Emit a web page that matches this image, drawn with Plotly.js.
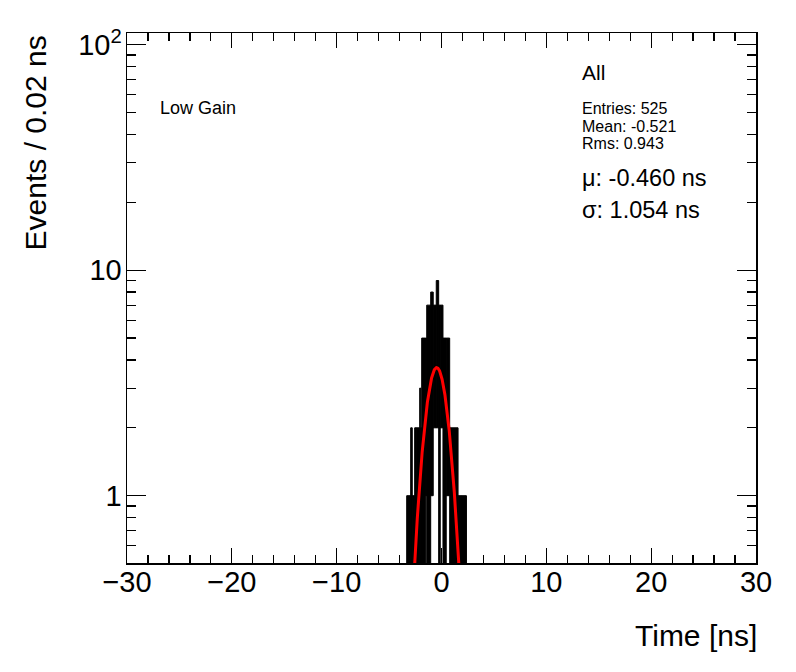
<!DOCTYPE html>
<html>
<head>
<meta charset="utf-8">
<script src="https://cdn.plot.ly/plotly-3.0.1.min.js"></script>
<style>
  html, body { margin: 0; padding: 0; background: #fff; }
  #chart { width: 796px; height: 672px; }
</style>
</head>
<body>
<div id="chart"></div>
<script>
// Histogram envelope (columns of the dense 0.02 ns histogram)
const binLow  = [-3.32, -2.94, -2.79, -2.56, -2.41, -2.08, -1.98, -1.89, -1.51, -1.41, -1.03, -0.79, -0.50, -0.27, -0.12, 0.14, 0.45, 0.78, 1.58, 1.83];
const binHigh = [-2.94, -2.79, -2.56, -2.41, -2.08, -1.98, -1.89, -1.51, -1.41, -1.03, -0.79, -0.50, -0.27, -0.12, 0.14, 0.45, 0.78, 1.58, 1.83, 2.38];
const maxCounts = [1, 2, 1, 2, 2, 3, 2, 5, 5, 7, 8, 7, 9, 7, 7, 5, 5, 2, 1, 1];
const minCounts = [0, 0, 0, 0, 0, 0, 0, 0, 1, 0, 1, 2, 2, 0, 2, 0, 1, 0, 0, 0];

// Gaussian fit parameters
const fitMu = -0.460;
const fitSigma = 1.054;
const fitAmp = 3.7;
const fitRange = [-2.8, 1.75];

const xTickVals = [-30, -20, -10, 0, 10, 20, 30];
const xTickText = ['\u221230', '\u221220', '\u221210', '0', '10', '20', '30'];
const yTickVals = [1, 10, 100];
const yTickText = ['1', '10', '10<sup>2</sup>'];
const yMinorVals = [0.6, 0.7, 0.8, 0.9, 2, 3, 4, 5, 6, 7, 8, 9, 20, 30, 40, 50, 60, 70, 80, 90];

const statLines = ['Entries: 525', 'Mean: -0.521', 'Rms: 0.943'];
const fitLines = ['\u03bc: -0.460 ns', '\u03c3: 1.054 ns'];

const FLOOR = 0.05; // below axis range: "zero" level
const centers = binLow.map((l, i) => (l + binHigh[i]) / 2);
const widths = binLow.map((l, i) => binHigh[i] - l);
const bases = minCounts.map(v => v > 0 ? v : FLOOR);
const heights = maxCounts.map((v, i) => v - bases[i]);

const fx = [], fy = [];
for (let x = fitRange[0]; x <= fitRange[1] + 1e-9; x += 0.01) {
  fx.push(x);
  fy.push(fitAmp * Math.exp(-Math.pow(x - fitMu, 2) / (2 * fitSigma * fitSigma)));
}

const FONT = 'Liberation Sans, Arial, Helvetica, sans-serif';

const traces = [
  {
    type: 'bar', x: centers, y: heights, base: bases, width: widths,
    marker: { color: '#000', line: { color: '#000', width: 1 } },
    hoverinfo: 'skip', showlegend: false
  },
  {
    type: 'scatter', mode: 'lines', x: fx, y: fy,
    line: { color: '#ff0000', width: 3 },
    hoverinfo: 'skip', showlegend: false
  }
];

const pT = 33.3, pB = 563.3, pL = 127.3, pR = 756.3;
const H = 672, W = 796;
const py = (yPix) => (pB - yPix) / (pB - pT);
const px = (xPix) => (xPix - pL) / (pR - pL);

const annotations = [
  { text: 'Time [ns]', xref: 'paper', yref: 'paper', x: px(759), y: py(636), xanchor: 'right', yanchor: 'middle', showarrow: false, font: { family: FONT, size: 30, color: '#000' } },
  { text: 'Events / 0.02 ns', xref: 'paper', yref: 'paper', x: px(36), y: py(143), xanchor: 'center', yanchor: 'middle', textangle: -90, showarrow: false, font: { family: FONT, size: 30, color: '#000' } },
  { text: 'Low Gain', xref: 'paper', yref: 'paper', x: px(158), y: py(108), xanchor: 'left', yanchor: 'middle', showarrow: false, font: { family: FONT, size: 18, color: '#000' } },
  { text: 'All', xref: 'paper', yref: 'paper', x: px(580.5), y: py(73), xanchor: 'left', yanchor: 'middle', showarrow: false, font: { family: FONT, size: 21, color: '#000' } }
];
statLines.forEach((t, i) => annotations.push({ text: t, xref: 'paper', yref: 'paper', x: px(580.5), y: py(109 + i * 17.5), xanchor: 'left', yanchor: 'middle', showarrow: false, font: { family: FONT, size: 16, color: '#000' } }));
fitLines.forEach((t, i) => annotations.push({ text: t, xref: 'paper', yref: 'paper', x: px(580.5), y: py(178 + i * 32), xanchor: 'left', yanchor: 'middle', showarrow: false, font: { family: FONT, size: 23.5, color: '#000' } }));

const layout = {
  width: W, height: H,
  margin: { l: pL, r: W - pR, t: pT, b: H - pB, pad: 0 },
  paper_bgcolor: '#fff', plot_bgcolor: '#fff',
  bargap: 0,
  showlegend: false,
  font: { family: FONT, color: '#000' },
  xaxis: {
    range: [-30, 30], showgrid: false, zeroline: false,
    showline: true, linecolor: '#000', linewidth: 1.5, mirror: 'ticks',
    ticks: 'inside', ticklen: 15, tickwidth: 1.2, tickcolor: '#000',
    tickmode: 'array', tickvals: xTickVals, ticktext: xTickText,
    tickfont: { family: FONT, size: 29, color: '#000' },
    ticklabelstandoff: -7,
    minor: { dtick: 2, ticks: 'inside', ticklen: 8, tickwidth: 1.2, tickcolor: '#000', showgrid: false },
    fixedrange: true
  },
  yaxis: {
    type: 'log', range: [Math.log10(0.503), Math.log10(112.7)],
    showgrid: false, zeroline: false,
    showline: true, linecolor: '#000', linewidth: 1.5, mirror: 'ticks',
    ticks: 'inside', ticklen: 19, tickwidth: 1.2, tickcolor: '#000',
    tickmode: 'array', tickvals: yTickVals, ticktext: yTickText,
    tickfont: { family: FONT, size: 29, color: '#000' },
    ticklabelstandoff: -2,
    minor: { tickmode: 'array', tickvals: yMinorVals, ticks: 'inside', ticklen: 9, tickwidth: 1.2, tickcolor: '#000', showgrid: false },
    fixedrange: true
  },
  annotations: annotations
};

Plotly.newPlot('chart', traces, layout, { staticPlot: true, displayModeBar: false });
</script>
</body>
</html>
